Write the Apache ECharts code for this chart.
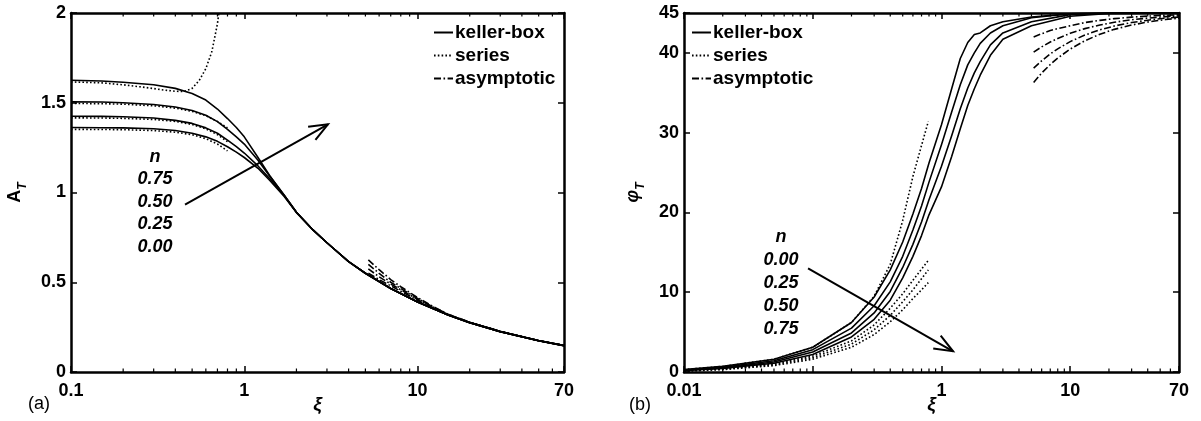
<!DOCTYPE html>
<html><head><meta charset="utf-8">
<script src="https://cdn.jsdelivr.net/npm/echarts@6/dist/echarts.min.js"></script>
<style>html,body{margin:0;padding:0;background:#fff}#c{width:1201px;height:421px}</style>
</head><body><div id="c"></div>
<script>
// ---------------- Panel (a): A_T vs xi ----------------
const xTicksA = ['0.1', '1', '10', '70'];
const yTicksA = ['0', '0.5', '1', '1.5', '2'];
const xiA_kb = [0.1,0.15,0.2,0.3,0.4,0.5,0.6,0.7,0.8,0.9,1.0,1.2,1.4,1.7,2,2.5,3,4,5,7,10,15,20,30,50,70];
const A_kb_075 = [1.625,1.621,1.614,1.600,1.580,1.552,1.515,1.465,1.412,1.362,1.310,1.195,1.095,0.985,0.890,0.790,0.720,0.615,0.550,0.465,0.390,0.318,0.275,0.225,0.174,0.147];
const A_kb_050 = [1.505,1.504,1.500,1.490,1.476,1.457,1.430,1.395,1.352,1.310,1.270,1.180,1.092,0.985,0.890,0.790,0.720,0.615,0.550,0.465,0.390,0.318,0.275,0.225,0.174,0.147];
const A_kb_025 = [1.425,1.424,1.422,1.415,1.402,1.385,1.360,1.330,1.292,1.256,1.220,1.148,1.078,0.982,0.890,0.790,0.720,0.615,0.550,0.465,0.390,0.318,0.275,0.225,0.174,0.147];
const A_kb_000 = [1.362,1.361,1.360,1.355,1.345,1.330,1.310,1.285,1.255,1.225,1.195,1.135,1.068,0.978,0.888,0.790,0.720,0.615,0.550,0.465,0.390,0.318,0.275,0.225,0.174,0.147];
const xiA_ser1 = [0.1,0.15,0.2,0.25,0.3,0.35,0.4,0.45,0.5,0.55,0.6,0.65,0.7,0.72];
const A_ser_075 = [1.616,1.611,1.600,1.589,1.579,1.570,1.564,1.563,1.580,1.625,1.690,1.785,1.940,2.03];
const xiA_ser = [0.1,0.15,0.2,0.3,0.4,0.5,0.6,0.7,0.8];
const A_ser_050 = [1.496,1.495,1.492,1.483,1.470,1.452,1.428,1.396,1.360];
const A_ser_025 = [1.416,1.415,1.413,1.407,1.396,1.379,1.355,1.322,1.283];
const A_ser_000 = [1.352,1.351,1.350,1.345,1.336,1.322,1.300,1.270,1.232];
const xiA_asy = [5.2,6,7,8,10,12,15,20,30,50,70];
const A_asy_1 = [0.625,0.570,0.515,0.475,0.415,0.370,0.322,0.277,0.226,0.175,0.148];
const A_asy_2 = [0.600,0.550,0.500,0.465,0.410,0.367,0.321,0.277,0.226,0.175,0.148];
const A_asy_3 = [0.575,0.530,0.490,0.458,0.405,0.364,0.320,0.276,0.226,0.175,0.148];
const A_asy_4 = [0.550,0.515,0.480,0.450,0.400,0.360,0.318,0.276,0.226,0.175,0.148];
const nLabelsA = ['n', '0.75', '0.50', '0.25', '0.00'];

// ---------------- Panel (b): phi_T vs xi ----------------
const xTicksB = ['0.01', '1', '10', '70'];
const yTicksB = ['0', '10', '20', '30', '40', '45'];
const xiB_kb = [0.01,0.02,0.05,0.1,0.2,0.3,0.4,0.5,0.6,0.7,0.8,1.0,1.2,1.4,1.6,1.8,2.0,2.4,3,5,10,20,70];
const P_kb_000 = [0.3,0.7,1.6,3.1,6.2,9.4,12.8,16.3,19.8,23.0,26.2,31.0,35.5,39.3,41.3,42.3,42.5,43.4,43.9,44.5,44.9,45,45];
const P_kb_025 = [0.25,0.6,1.4,2.8,5.5,8.3,11.3,14.5,17.8,20.8,23.8,28.5,32.6,36.0,38.5,40.0,41.2,42.5,43.4,44.4,44.9,45,45];
const P_kb_050 = [0.2,0.5,1.25,2.5,4.9,7.4,10.1,13.1,16.0,18.8,21.6,25.8,29.6,33.0,35.6,37.5,38.9,41.0,42.5,43.9,44.8,45,45];
const P_kb_075 = [0.18,0.45,1.1,2.2,4.4,6.6,9.0,11.8,14.5,17.1,19.7,23.2,27.0,30.5,33.4,35.5,37.2,39.7,41.7,43.4,44.6,44.95,45];
const xiB_ser = [0.01,0.02,0.05,0.1,0.2,0.3,0.4,0.5,0.6,0.7,0.79];
const P_ser_000 = [0.3,0.7,1.6,3.1,6.2,9.5,13.5,19.0,24.5,28.4,31.4];
const P_ser_025 = [0.2,0.4,1.0,2.0,3.9,5.9,8.0,9.8,11.5,12.9,14.0];
const P_ser_050 = [0.15,0.35,0.9,1.8,3.5,5.3,7.1,8.8,10.3,11.7,12.8];
const P_ser_075 = [0.1,0.3,0.8,1.6,3.1,4.7,6.3,7.8,9.2,10.3,11.2];
const xiB_asy = [5.2,6,7,8,10,13,17,22,30,40,55,70];
const P_asy_000 = [42.0,42.4,42.8,43.05,43.4,43.8,44.08,44.29,44.48,44.61,44.72,44.78];
const P_asy_025 = [40.1,40.75,41.36,41.81,42.45,43.04,43.5,43.84,44.15,44.36,44.54,44.64];
const P_asy_050 = [38.1,39.0,39.87,40.51,41.41,42.24,42.89,43.37,43.80,44.10,44.35,44.49];
const P_asy_075 = [36.3,37.47,38.54,39.35,40.48,41.52,42.34,42.95,43.49,43.87,44.18,44.35];
const nLabelsB = ['n', '0.00', '0.25', '0.50', '0.75'];

// Annotation arrows in data coordinates [xi, value]
const arrowA = [[0.455, 0.933], [3.04, 1.38]];
const arrowB = [[0.092, 13.0], [1.23, 2.6]];
const legendNames = ['keller-box', 'series', 'asymptotic'];

// ---------------- build ----------------
const FONT = "'Liberation Sans', Arial, Helvetica, sans-serif";
const BLACK = '#000';
function zip(xs, ys) { return xs.map((x, i) => [x, ys[i]]); }
const STYLES = {
  'keller-box': { type: 'solid', width: 1.6 },
  'series': { type: [1.6, 2.2], width: 1.6 },
  'asymptotic': { type: [7, 2.5, 1.6, 2.5], width: 1.6 }
};
function line(name, xs, ys, gi) {
  return {
    type: 'line', name: name, xAxisIndex: gi * 2, yAxisIndex: gi * 2,
    data: zip(xs, ys), showSymbol: false, symbol: 'none',
    smooth: false, clip: true,
    lineStyle: Object.assign({ color: BLACK, cap: 'butt', join: 'round' }, STYLES[name]),
    itemStyle: { color: BLACK }, emphasis: { disabled: true }, silent: true
  };
}
function nearLabel(v, list) {
  for (const t of list) {
    const n = parseFloat(t);
    if (n > 0 && v > 0 && Math.abs(Math.log10(v) - Math.log10(n)) < 1e-6) return t;
  }
  return '';
}
const labelStyle = { color: BLACK, fontSize: 18, fontWeight: 'bold', fontFamily: FONT };
function xAx(gi, pos, min, max, ticks) {
  const main = pos === 'bottom';
  return {
    gridIndex: gi, type: 'log', logBase: 10, min: min, max: max, position: pos,
    axisLine: { onZero: false, lineStyle: { color: BLACK, width: 2.5 } },
    axisTick: { show: true, inside: true, length: 6, lineStyle: { color: BLACK, width: 1.5 } },
    axisLabel: Object.assign({ show: main, margin: 10, formatter: v => nearLabel(v, ticks) }, labelStyle),
    splitLine: { show: false }, minorTick: { show: false }
  };
}
function yAx(gi, pos, min, max, interval, name, gap, mainItalic) {
  const main = pos === 'left';
  return {
    gridIndex: gi, type: 'value', min: min, max: max, interval: interval, position: pos,
    axisLine: { onZero: false, lineStyle: { color: BLACK, width: 2.5 } },
    axisTick: { show: true, inside: true, length: 6, lineStyle: { color: BLACK, width: 1.5 } },
    axisLabel: Object.assign({ show: main, margin: 5 }, labelStyle),
    splitLine: { show: false },
    name: main ? name : '', nameLocation: 'middle', nameGap: gap, nameMoveOverlap: false,
    nameTextStyle: {
      color: BLACK, fontFamily: FONT,
      rich: {
        m: { fontSize: 18, fontWeight: 'bold', fontStyle: mainItalic ? 'italic' : 'normal', fontFamily: FONT, color: BLACK, verticalAlign: 'bottom', padding: [0, 0, 5, 0] },
        s: { fontSize: 12, fontWeight: 'bold', fontStyle: 'italic', fontFamily: FONT, color: BLACK, verticalAlign: 'bottom' }
      }
    }
  };
}
function legend(left, top) {
  return {
    data: legendNames, orient: 'vertical', left: left, top: top, padding: 0,
    itemWidth: 19, itemHeight: 14, itemGap: 4, selectedMode: false,
    backgroundColor: 'transparent',
    itemStyle: { opacity: 0, borderWidth: 0 },
    textStyle: { color: BLACK, fontSize: 19, fontWeight: 'bold', fontFamily: FONT, padding: [0, 0, 0, -3] }
  };
}

const series = [
  line('keller-box', xiA_kb, A_kb_075, 0), line('keller-box', xiA_kb, A_kb_050, 0),
  line('keller-box', xiA_kb, A_kb_025, 0), line('keller-box', xiA_kb, A_kb_000, 0),
  line('series', xiA_ser1, A_ser_075, 0), line('series', xiA_ser, A_ser_050, 0),
  line('series', xiA_ser, A_ser_025, 0), line('series', xiA_ser, A_ser_000, 0),
  line('asymptotic', xiA_asy, A_asy_1, 0), line('asymptotic', xiA_asy, A_asy_2, 0),
  line('asymptotic', xiA_asy, A_asy_3, 0), line('asymptotic', xiA_asy, A_asy_4, 0),
  line('keller-box', xiB_kb, P_kb_000, 1), line('keller-box', xiB_kb, P_kb_025, 1),
  line('keller-box', xiB_kb, P_kb_050, 1), line('keller-box', xiB_kb, P_kb_075, 1),
  line('series', xiB_ser, P_ser_000, 1), line('series', xiB_ser, P_ser_025, 1),
  line('series', xiB_ser, P_ser_050, 1), line('series', xiB_ser, P_ser_075, 1),
  line('asymptotic', xiB_asy, P_asy_000, 1), line('asymptotic', xiB_asy, P_asy_025, 1),
  line('asymptotic', xiB_asy, P_asy_050, 1), line('asymptotic', xiB_asy, P_asy_075, 1)
];

const chart = echarts.init(document.getElementById('c'), null, { renderer: 'canvas' });
chart.setOption({
  animation: false,
  backgroundColor: '#fff',
  textStyle: { fontFamily: FONT },
  grid: [
    { left: 71, top: 13, width: 493, height: 359, containLabel: false, outerBoundsMode: 'none' },
    { left: 684, top: 13, width: 495, height: 359, containLabel: false, outerBoundsMode: 'none' }
  ],
  legend: [legend(433, 23), legend(691, 23)],
  xAxis: [
    xAx(0, 'bottom', 0.1, 70, xTicksA), xAx(0, 'top', 0.1, 70, xTicksA),
    xAx(1, 'bottom', 0.01, 70, xTicksB), xAx(1, 'top', 0.01, 70, xTicksB)
  ],
  yAxis: [
    yAx(0, 'left', 0, 2, 0.5, '{m|A}{s|T}', 42, false), yAx(0, 'right', 0, 2, 0.5, '', 0, false),
    yAx(1, 'left', 0, 45, 10, '{m|φ}{s|T}', 37, true), yAx(1, 'right', 0, 45, 10, '', 0, false)
  ],
  series: series
});

// ---------------- decorations: minor ticks, arrows, annotation text ----------------
const g = [];
function px(ax, v) { return chart.convertToPixel({ xAxisIndex: ax }, v); }
function py(ax, v) { return chart.convertToPixel({ yAxisIndex: ax }, v); }
function minorTicks(xb, yi, lo, hi, ymin, ymax) {
  const yb = py(yi, ymin), yt = py(yi, ymax);
  for (let d = -3; d <= 2; d++) {
    for (let m = 2; m <= 9; m++) {
      const v = m * Math.pow(10, d);
      if (v <= lo || v >= hi) continue;
      const x = px(xb, v);
      g.push({ type: 'line', shape: { x1: x, y1: yb, x2: x, y2: yb - 3.5 }, style: { stroke: BLACK, lineWidth: 1.2 }, silent: true });
      g.push({ type: 'line', shape: { x1: x, y1: yt, x2: x, y2: yt + 3.5 }, style: { stroke: BLACK, lineWidth: 1.2 }, silent: true });
    }
  }
}
minorTicks(0, 0, 0.1, 70, 0, 2);
minorTicks(2, 2, 0.01, 70, 0, 45);

function arrow(gi, pts) {
  const a = chart.convertToPixel({ gridIndex: gi }, pts[0]);
  const b = chart.convertToPixel({ gridIndex: gi }, pts[1]);
  g.push({ type: 'line', shape: { x1: a[0], y1: a[1], x2: b[0], y2: b[1] }, style: { stroke: BLACK, lineWidth: 2 }, silent: true });
  const ang = Math.atan2(b[1] - a[1], b[0] - a[0]);
  const L = 20, spread = 22 * Math.PI / 180;
  const w1 = [b[0] - L * Math.cos(ang - spread), b[1] - L * Math.sin(ang - spread)];
  const w2 = [b[0] - L * Math.cos(ang + spread), b[1] - L * Math.sin(ang + spread)];
  g.push({ type: 'polyline', shape: { points: [w1, b, w2] }, style: { stroke: BLACK, lineWidth: 2, fill: null }, silent: true });
}
arrow(0, arrowA);
arrow(1, arrowB);

function nText(labels, cx, cy0, pitch) {
  labels.forEach((t, i) => {
    g.push({ type: 'text', x: cx, y: cy0 + i * pitch, silent: true,
      style: { text: t, fill: BLACK, font: 'italic bold 18px ' + FONT, align: 'center', verticalAlign: 'middle' } });
  });
}
nText(nLabelsA, 155, 157, 22.5);
nText(nLabelsB, 781, 237, 23);

// x-axis titles centred under each plot area
function xTitle(xi) {
  const l = px(xi, xi === 0 ? 0.1 : 0.01), r = px(xi, 70);
  g.push({ type: 'text', x: (l + r) / 2, y: 405, silent: true,
    style: { text: 'ξ', fill: BLACK, font: 'italic bold 19px ' + FONT, align: 'center', verticalAlign: 'middle' } });
}
xTitle(0);
xTitle(2);

g.push({ type: 'text', x: 39, y: 404, silent: true, style: { text: '(a)', fill: BLACK, font: '18px ' + FONT, align: 'center', verticalAlign: 'middle' } });
g.push({ type: 'text', x: 640, y: 405, silent: true, style: { text: '(b)', fill: BLACK, font: '18px ' + FONT, align: 'center', verticalAlign: 'middle' } });

chart.setOption({ graphic: { elements: g } });
</script>
</body></html>
